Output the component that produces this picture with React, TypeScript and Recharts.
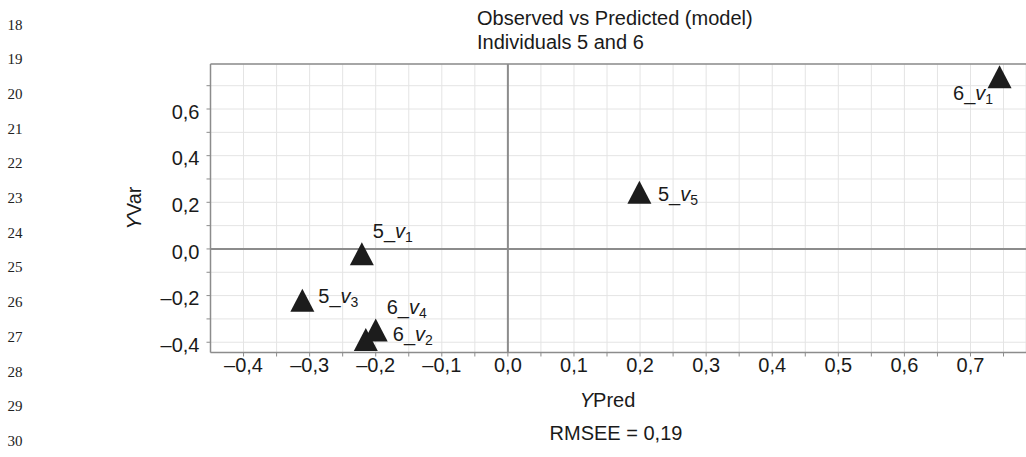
import React from 'react'
import {
  ScatterChart,
  Scatter,
  XAxis,
  YAxis,
  CartesianGrid,
  ReferenceLine,
} from 'recharts'

const pointNames = ['5_v1', '5_v3', '5_v5', '6_v1', '6_v2', '6_v4']
const yPred = [-0.221, -0.311, 0.199, 0.744, -0.215, -0.2]
const yVar = [-0.021, -0.22, 0.243, 0.738, -0.388, -0.348]

const xTicks = [
  -0.4, -0.35, -0.3, -0.25, -0.2, -0.15, -0.1, -0.05, 0, 0.05, 0.1, 0.15, 0.2,
  0.25, 0.3, 0.35, 0.4, 0.45, 0.5, 0.55, 0.6, 0.65, 0.7, 0.75,
]
const yTicks = [-0.4, -0.3, -0.2, -0.1, 0, 0.1, 0.2, 0.3, 0.4, 0.5, 0.6, 0.7]

const lineNumbers = [18, 19, 20, 21, 22, 23, 24, 25, 26, 27, 28, 29, 30]

const X_DOMAIN: [number, number] = [-0.45, 0.784]
const Y_DOMAIN: [number, number] = [-0.444, 0.793]

const data = pointNames.map((name, i) => ({ name, x: yPred[i], y: yVar[i] }))

// where each point's label sits, relative to the marker
const labelOffsets: Record<string, [number, number]> = {
  '5_v1': [11, -16],
  '5_v3': [16, 2.5],
  '5_v5': [18.5, 9],
  '6_v1': [-46.5, 23],
  '6_v2': [27, 1.7],
  '6_v4': [11, -15.7],
}

const SANS = '"Liberation Sans", Arial, Helvetica, sans-serif'
const SERIF = '"Liberation Serif", "Times New Roman", serif'
const INK = '#1a1a1a'
const AXIS = '#8c8c8c'

const fmt = (v: number) => v.toFixed(1).replace('.', ',').replace('-', '\u2013')

const fmtX = (v: number) => (Math.round(v * 100) % 10 === 0 ? fmt(v) : '')
const fmtY = (v: number) => (Math.round(v * 10) % 2 === 0 ? fmt(v) : '')

function TriangleMark(props: any) {
  const { cx, cy, payload } = props
  if (cx == null || cy == null) return null
  const [dx, dy] = labelOffsets[payload.name] ?? [14, 5]
  const [num, sub] = String(payload.name).split('_v')
  return (
    <g>
      <path
        d={`M${cx},${cy - 11.5} L${cx + 12},${cy + 11.5} L${cx - 12},${cy + 11.5} Z`}
        fill="#1c1c1c"
      />
      <text x={cx + dx} y={cy + dy} fontSize={20} fill={INK} fontFamily={SANS}>
        {num}_<tspan fontStyle="italic">v</tspan>
        <tspan fontSize={14} dy={4}>{sub}</tspan>
      </text>
    </g>
  )
}

export default function App() {
  return (
    <div style={{ position: 'absolute', left: 0, top: 0, width: 1026, height: 457, background: '#fff' }}>
      <ScatterChart
        width={1026}
        height={457}
        margin={{ top: 64, right: 0, bottom: 74.5, left: 150.5 }}
      >
        <CartesianGrid stroke="#e4e4e4" strokeWidth={1} />
        <XAxis
          type="number"
          dataKey="x"
          domain={X_DOMAIN}
          ticks={xTicks}
          interval={0}
          allowDataOverflow
          tickFormatter={fmtX}
          height={30}
          tickSize={4}
          tickMargin={1}
          axisLine={{ stroke: AXIS, strokeWidth: 1.5 }}
          tickLine={{ stroke: AXIS }}
          tick={{ fontSize: 20, fill: INK, fontFamily: SANS }}
        />
        <YAxis
          type="number"
          dataKey="y"
          domain={Y_DOMAIN}
          ticks={yTicks}
          interval={0}
          allowDataOverflow
          tickFormatter={fmtY}
          width={60}
          tickSize={4}
          tickMargin={7}
          axisLine={{ stroke: AXIS, strokeWidth: 1.5 }}
          tickLine={{ stroke: AXIS }}
          tick={{ fontSize: 20, fill: INK, fontFamily: SANS, dy: 2.5 }}
        />
        <ReferenceLine x={0} stroke={AXIS} strokeWidth={2} />
        <ReferenceLine y={0} stroke={AXIS} strokeWidth={2} />
        <ReferenceLine y={Y_DOMAIN[1]} stroke={AXIS} strokeWidth={1.5} />
        <Scatter data={data} shape={TriangleMark} isAnimationActive={false} />
      </ScatterChart>

      <svg
        width={1026}
        height={457}
        style={{ position: 'absolute', left: 0, top: 0, pointerEvents: 'none' }}
      >
        <g fontFamily={SERIF} fontSize={15} fill="#222">
          {lineNumbers.map((n, i) => (
            <text key={n} x={7.5} y={29.5 + i * 34.7}>
              {n}
            </text>
          ))}
        </g>
        <g fontFamily={SANS} fontSize={20} fill={INK}>
          <text x={477} y={25}>Observed vs Predicted (model)</text>
          <text x={477} y={49}>Individuals 5 and 6</text>
          <text x={607.5} y={406.7} textAnchor="middle">
            <tspan fontStyle="italic">Y</tspan>Pred
          </text>
          <text x={616} y={440} textAnchor="middle">
            RMSEE = 0,19
          </text>
          <text x={134} y={215} textAnchor="middle" transform="rotate(-90, 134, 208)">
            <tspan fontStyle="italic">Y</tspan>Var
          </text>
        </g>
      </svg>
    </div>
  )
}
